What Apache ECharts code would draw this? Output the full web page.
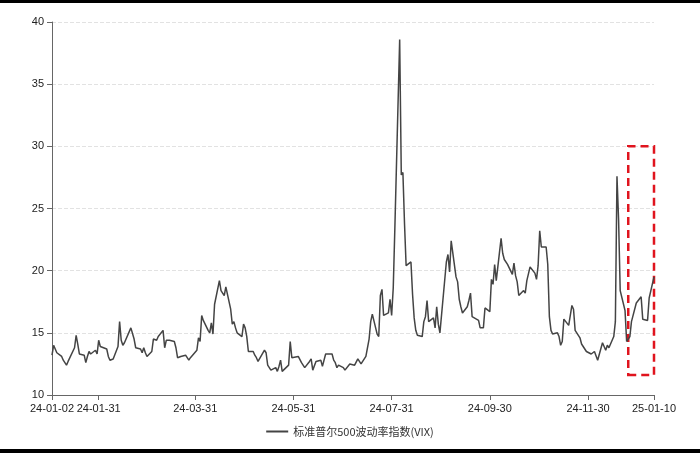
<!DOCTYPE html>
<html><head><meta charset="utf-8">
<script src="https://cdn.jsdelivr.net/npm/echarts@6/dist/echarts.min.js"></script>
<style>html,body{margin:0;padding:0;background:#fff}#c{width:700px;height:456px}</style>
</head><body><div id="c"></div>
<script>
const seriesName = '标准普尔500波动率指数(VIX)';
const startDate = '2024-01-02';
const tickDates = ['2024-01-02','2024-01-31','2024-03-31','2024-05-31','2024-07-31','2024-09-30','2024-11-30','2025-01-10'];
const dates = ['2024-01-02','2024-01-03','2024-01-04','2024-01-05','2024-01-08','2024-01-09','2024-01-10','2024-01-11','2024-01-12','2024-01-16','2024-01-17','2024-01-18','2024-01-19','2024-01-22','2024-01-23','2024-01-24','2024-01-25','2024-01-26','2024-01-29','2024-01-30','2024-01-31',
'2024-02-01','2024-02-02','2024-02-05','2024-02-06','2024-02-07','2024-02-08','2024-02-09','2024-02-12','2024-02-13','2024-02-14','2024-02-15','2024-02-16','2024-02-20','2024-02-21','2024-02-22','2024-02-23','2024-02-26','2024-02-27','2024-02-28','2024-02-29',
'2024-03-01','2024-03-04','2024-03-05','2024-03-06','2024-03-07','2024-03-08','2024-03-11','2024-03-12','2024-03-13','2024-03-14','2024-03-15','2024-03-18','2024-03-19','2024-03-20','2024-03-21','2024-03-22','2024-03-25','2024-03-26','2024-03-27','2024-03-28',
'2024-04-01','2024-04-02','2024-04-03','2024-04-04','2024-04-05','2024-04-08','2024-04-09','2024-04-10','2024-04-11','2024-04-12','2024-04-15','2024-04-16','2024-04-17','2024-04-18','2024-04-19','2024-04-22','2024-04-23','2024-04-24','2024-04-25','2024-04-26','2024-04-29','2024-04-30',
'2024-05-01','2024-05-02','2024-05-03','2024-05-06','2024-05-07','2024-05-08','2024-05-09','2024-05-10','2024-05-13','2024-05-14','2024-05-15','2024-05-16','2024-05-17','2024-05-20','2024-05-21','2024-05-22','2024-05-23','2024-05-24','2024-05-28','2024-05-29','2024-05-30','2024-05-31',
'2024-06-03','2024-06-04','2024-06-05','2024-06-06','2024-06-07','2024-06-10','2024-06-11','2024-06-12','2024-06-13','2024-06-14','2024-06-17','2024-06-18','2024-06-20','2024-06-21','2024-06-24','2024-06-25','2024-06-26','2024-06-27','2024-06-28',
'2024-07-01','2024-07-02','2024-07-03','2024-07-05','2024-07-08','2024-07-09','2024-07-10','2024-07-11','2024-07-12','2024-07-15','2024-07-16','2024-07-17','2024-07-18','2024-07-19','2024-07-22','2024-07-23','2024-07-24','2024-07-25','2024-07-26','2024-07-29','2024-07-30','2024-07-31',
'2024-08-01','2024-08-02','2024-08-05','2024-08-06','2024-08-07','2024-08-08','2024-08-09','2024-08-12','2024-08-13','2024-08-14','2024-08-15','2024-08-16','2024-08-19','2024-08-20','2024-08-21','2024-08-22','2024-08-23','2024-08-26','2024-08-27','2024-08-28','2024-08-29','2024-08-30',
'2024-09-03','2024-09-04','2024-09-05','2024-09-06','2024-09-09','2024-09-10','2024-09-11','2024-09-12','2024-09-13','2024-09-16','2024-09-17','2024-09-18','2024-09-19','2024-09-20','2024-09-23','2024-09-24','2024-09-25','2024-09-26','2024-09-27','2024-09-30',
'2024-10-01','2024-10-02','2024-10-03','2024-10-04','2024-10-07','2024-10-08','2024-10-09','2024-10-10','2024-10-11','2024-10-14','2024-10-15','2024-10-16','2024-10-17','2024-10-18','2024-10-21','2024-10-22','2024-10-23','2024-10-24','2024-10-25','2024-10-28','2024-10-29','2024-10-30','2024-10-31',
'2024-11-01','2024-11-04','2024-11-05','2024-11-06','2024-11-07','2024-11-08','2024-11-11','2024-11-12','2024-11-13','2024-11-14','2024-11-15','2024-11-18','2024-11-19','2024-11-20','2024-11-21','2024-11-22','2024-11-25','2024-11-26','2024-11-27','2024-11-29',
'2024-12-02','2024-12-03','2024-12-04','2024-12-05','2024-12-06','2024-12-09','2024-12-10','2024-12-11','2024-12-12','2024-12-13','2024-12-16','2024-12-17','2024-12-18','2024-12-19','2024-12-20','2024-12-23','2024-12-24','2024-12-26','2024-12-27','2024-12-30','2024-12-31',
'2025-01-02','2025-01-03','2025-01-06','2025-01-07','2025-01-08','2025-01-10'];
const values = [13.2,14.0,14.1,13.4,13.1,12.8,12.7,12.4,12.7,13.8,14.8,14.1,13.3,13.2,12.6,13.1,13.5,13.3,13.6,13.3,14.4,
13.9,13.9,13.7,13.1,12.8,12.8,12.9,13.9,15.9,14.4,14.0,14.2,15.4,15.3,14.5,13.8,13.7,13.4,13.8,13.4,
13.1,13.5,14.5,14.5,14.4,14.7,15.2,13.8,14.4,14.4,14.4,14.3,13.8,13.0,13.1,13.1,13.2,13.2,12.8,13.0,
13.6,14.6,14.3,16.4,16.0,15.2,15.0,15.8,14.9,17.3,19.2,18.4,18.2,18.0,18.7,16.9,15.7,15.9,15.4,15.0,14.7,15.7,
15.4,14.7,13.5,13.5,13.2,13.0,12.7,12.6,13.6,13.4,12.4,12.4,12.0,12.2,11.9,12.3,12.8,11.9,12.4,14.3,13.0,12.9,
13.1,13.2,12.6,12.6,12.2,12.7,12.9,12.0,11.9,12.7,12.8,12.3,13.3,13.2,13.3,12.8,12.6,12.2,12.4,
12.2,12.0,12.1,12.5,12.4,12.5,12.9,12.9,12.5,13.1,13.2,14.5,15.9,16.5,14.9,14.7,18.0,18.5,16.4,16.6,17.7,16.4,
18.6,23.4,38.6,27.7,27.9,23.8,20.4,20.7,18.1,16.2,15.2,14.8,14.7,15.9,16.3,17.6,15.9,16.2,15.4,17.1,15.7,15.0,
20.7,21.3,19.9,22.4,19.5,19.1,17.7,17.1,16.6,17.1,17.6,18.2,16.3,16.2,16.0,15.4,15.4,15.4,17.0,16.7,
19.3,18.9,20.5,19.2,22.6,21.4,20.9,20.9,20.5,19.7,20.6,19.6,19.1,18.0,18.4,18.2,19.2,19.1,20.3,19.8,19.3,20.4,23.2,
21.9,21.9,20.5,16.3,15.2,14.9,15.0,14.7,14.0,14.3,16.1,15.6,16.4,17.2,16.9,15.2,14.6,14.1,14.1,13.5,
13.3,13.3,13.5,13.5,12.8,14.2,14.2,13.6,14.0,13.8,14.7,15.9,27.6,24.1,18.4,16.8,14.3,14.7,15.9,17.4,17.4,
17.9,16.1,16.0,17.8,17.7,19.5];
const boxX = ['2024-12-25','2025-01-10'];
const boxY = [11.6, 30];

const day0 = Date.parse(startDate);
const off = d => Math.round((Date.parse(d) - day0) / 86400000);
const tickOffs = tickDates.map(off);
const labelMap = {};
tickDates.forEach(d => labelMap[off(d)] = d.slice(2));
const data = dates.map((d, i) => [off(d), values[i]]);

const chart = echarts.init(document.getElementById('c'));
chart.setOption({
  animation: false,
  textStyle: {fontFamily: 'Noto Sans CJK SC'},
  grid: {left: 52, right: 46, top: 22, bottom: 61},
  legend: {bottom: 14, left: 'center', itemWidth: 22, itemHeight: 2,
    textStyle: {fontSize: 11, color: '#333'}, icon: 'rect', data: [seriesName]},
  graphic: [
    {type: 'rect', shape: {x: 0, y: 0, width: 700, height: 3}, style: {fill: '#000'}},
    {type: 'rect', shape: {x: 0, y: 449, width: 700, height: 4}, style: {fill: '#000'}}
  ],
  xAxis: {type: 'value', min: 0, max: tickOffs[tickOffs.length - 1],
    axisLine: {lineStyle: {color: '#666'}},
    axisTick: {customValues: tickOffs, lineStyle: {color: '#666'}},
    axisLabel: {customValues: tickOffs, formatter: v => labelMap[v] || '', color: '#222', fontSize: 11, fontFamily: 'Liberation Sans'},
    splitLine: {show: false}},
  yAxis: {type: 'value', min: 10, max: 40, interval: 5,
    axisLine: {show: true, lineStyle: {color: '#666'}},
    axisTick: {show: true, lineStyle: {color: '#666'}},
    axisLabel: {color: '#222', fontSize: 11, fontFamily: 'Liberation Sans'},
    splitLine: {lineStyle: {type: 'dashed', color: '#e2e2e2'}}},
  series: [{
    name: seriesName, type: 'line', data: data, showSymbol: false,
    lineStyle: {color: '#444', width: 1.5}, itemStyle: {color: '#444'},
    markArea: {silent: true, itemStyle: {color: 'rgba(0,0,0,0)', borderColor: '#e0141e', borderWidth: 2.5, borderType: [8, 5]},
      data: [[{xAxis: off(boxX[0]), yAxis: boxY[0]}, {xAxis: off(boxX[1]), yAxis: boxY[1]}]]}
  }]
});
</script></body></html>
